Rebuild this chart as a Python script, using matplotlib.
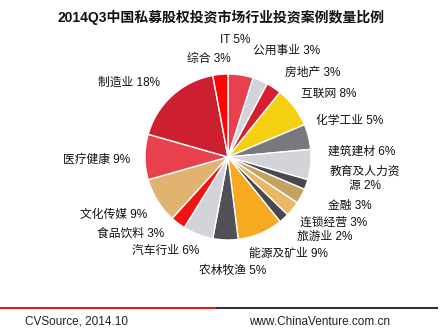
import matplotlib.pyplot as plt

plt.rcParams['font.family'] = ['Liberation Sans', 'Noto Sans CJK SC', 'DejaVu Sans']

# industry shares, clockwise from 12 o'clock
industries = ["IT", "公用事业", "房地产", "互联网", "化学工业", "建筑建材",
              "教育及人力资\n源", "金融", "连锁经营", "旅游业", "能源及矿业",
              "农林牧渔", "汽车行业", "食品饮料", "文化传媒", "医疗健康",
              "制造业", "综合"]
shares = [5, 3, 3, 8, 5, 6, 2, 3, 3, 2, 9, 5, 6, 3, 9, 9, 18, 3]

colors = ["#E8404C", "#D2D4D9", "#D42030", "#F5D010", "#78787E", "#D2D4D9",
          "#48484E", "#C6A262", "#E8B862", "#48484E", "#F5AA20", "#505056",
          "#D2D4D9", "#F01414", "#E0B470", "#E8404C", "#CC2030", "#FF0404"]

# label anchor points in pixels (x from left, y from top)
label_px = [(235, 40), (287, 51), (313, 73), (329, 94), (350, 121), (362, 152),
            (365, 179), (350, 206), (334, 223), (325, 237), (288, 254),
            (233, 271), (166, 251), (131, 234), (114, 215), (97, 160),
            (129, 83), (209, 59)]

W, H = 441, 334
fig = plt.figure(figsize=(W / 100, H / 100), dpi=100)
fig.patch.set_facecolor("white")

cx, cy, r = 228, 157, 83
ax = fig.add_axes([(cx - r) / W, (H - cy - r) / H, 2 * r / W, 2 * r / H])
ax.pie(shares, colors=colors, startangle=90, counterclock=False,
       wedgeprops=dict(edgecolor="white", linewidth=1.0))
ax.set_xlim(-1, 1)
ax.set_ylim(-1, 1)
ax.set_aspect("equal")
ax.axis("off")

for name, val, (px, py) in zip(industries, shares, label_px):
    fig.text(px / W, 1 - py / H, f"{name} {val}%", ha="center", va="center",
             fontsize=8.5, color="#111111", linespacing=1.25)

fig.text(221 / W, 1 - 17 / H, "2014Q3中国私募股权投资市场行业投资案例数量比例",
         ha="center", va="center", fontsize=10, fontweight="bold", color="#111111")

# footer rule and source text
fig.add_artist(plt.Line2D([0, 217 / W], [1 - 308 / H] * 2, color="#E02020", lw=1.5))
fig.add_artist(plt.Line2D([217 / W, 437 / W], [1 - 308 / H] * 2, color="#333333", lw=1.5))
fig.text(25 / W, 1 - 322 / H, "CVSource, 2014.10", ha="left", va="center",
         fontsize=8.5, color="#222222")
fig.text(249 / W, 1 - 322 / H, "www.ChinaVenture.com.cn", ha="left", va="center",
         fontsize=8.5, color="#222222")

fig.savefig("out.png", dpi=100)
